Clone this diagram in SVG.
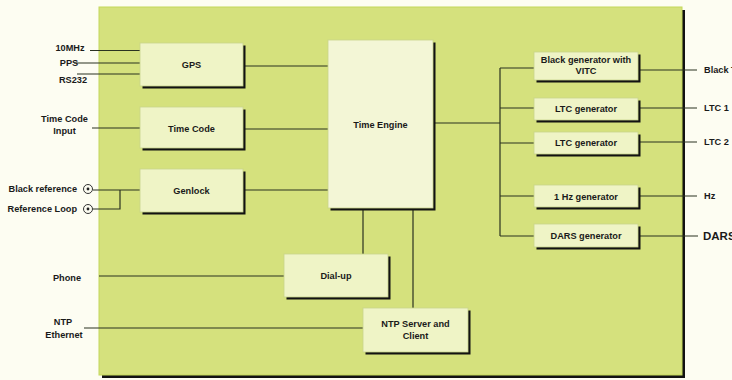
<svg xmlns="http://www.w3.org/2000/svg" width="732" height="380" viewBox="0 0 732 380">
<style>
.t{font-family:"Liberation Sans",Arial,sans-serif;font-weight:bold;font-size:9.2px;fill:#1a1a1a}
.m{text-anchor:middle}
.e{text-anchor:end}
.sh{fill:#121212}
.bx{fill:#eff4c6;stroke:#c8d48a;stroke-width:0.8}
.ln{stroke:#2b3320;stroke-width:1.2;fill:none}
.jk{fill:#fbfbf0;stroke:#333;stroke-width:1}
</style>
<rect width="732" height="380" fill="#fdfdf2"/>
<g id="panel">
<rect x="102" y="10" width="583" height="368" class="sh"/>
<rect x="99" y="7" width="583" height="368" fill="#d5e17d" stroke="#c4d85a" stroke-width="1"/>
</g>
<g id="connectors">
<path class="ln" d="M90 50.5H140M74 63H140M77 74H140"/>
<path class="ln" d="M92 128H140"/>
<path class="ln" d="M93 190H140M120 190V209H93"/>
<path class="ln" d="M99 276H284"/>
<path class="ln" d="M84 328H363"/>
<path class="ln" d="M243 66H328M243 129H328M243 190H328"/>
<path class="ln" d="M363 208V254M413 208V308"/>
<path class="ln" d="M433 123H500M500 68V236M500 68H534M500 108H534M500 143H534M500 196H534M500 236H534"/>
<path class="ln" d="M638 70H697M638 108H697M638 142H697M638 196H697M638 236H698"/>
</g>
<g id="jacks">
<circle cx="88" cy="189" r="4.5" class="jk"/><circle cx="88" cy="189" r="1.4" fill="#222"/>
<circle cx="88" cy="209" r="4.5" class="jk"/><circle cx="88" cy="209" r="1.4" fill="#222"/>
</g>
<g id="gps"><rect x="142.5" y="45.5" width="103" height="43" class="sh"/><rect x="140" y="43" width="103" height="43" class="bx"/><text x="191.5" y="67.5" class="t m">GPS</text></g>
<g id="timecode"><rect x="142.5" y="109.5" width="103" height="41" class="sh"/><rect x="140" y="107" width="103" height="41" class="bx"/><text x="191.5" y="131.5" class="t m">Time Code</text></g>
<g id="genlock"><rect x="142.5" y="171.5" width="103" height="43" class="sh"/><rect x="140" y="169" width="103" height="43" class="bx"/><text x="191.5" y="193.5" class="t m">Genlock</text></g>
<g id="timeengine"><rect x="330.5" y="42.5" width="105" height="168" class="sh"/><rect x="328" y="40" width="105" height="168" fill="#f3f6d6" stroke="#c8d48a" stroke-width="0.8"/><text x="380.5" y="127.5" class="t m">Time Engine</text></g>
<g id="dialup"><rect x="286.5" y="256.5" width="104" height="43" class="sh"/><rect x="284" y="254" width="104" height="43" class="bx"/><text x="336" y="278.5" class="t m">Dial-up</text></g>
<g id="ntp"><rect x="365.5" y="310.5" width="105" height="44" class="sh"/><rect x="363" y="308" width="105" height="44" class="bx"/><text x="415.5" y="326.5" class="t m">NTP Server and</text><text x="415.5" y="338.5" class="t m">Client</text></g>
<g id="blackgen"><rect x="536.5" y="54.5" width="104" height="28" class="sh"/><rect x="534" y="52" width="104" height="28" class="bx"/><text x="586" y="63" class="t m">Black generator with</text><text x="586" y="74" class="t m">VITC</text></g>
<g id="ltc1"><rect x="536.5" y="100.5" width="104" height="22" class="sh"/><rect x="534" y="98" width="104" height="22" class="bx"/><text x="586" y="111.5" class="t m">LTC generator</text></g>
<g id="ltc2"><rect x="536.5" y="134.5" width="104" height="22" class="sh"/><rect x="534" y="132" width="104" height="22" class="bx"/><text x="586" y="146" class="t m">LTC generator</text></g>
<g id="hz"><rect x="536.5" y="187.5" width="104" height="22" class="sh"/><rect x="534" y="185" width="104" height="22" class="bx"/><text x="586" y="199.5" class="t m">1 Hz generator</text></g>
<g id="dars"><rect x="536.5" y="226.5" width="104" height="23" class="sh"/><rect x="534" y="224" width="104" height="23" class="bx"/><text x="586" y="239" class="t m">DARS generator</text></g>
<g id="labels">
<text x="70" y="51" class="t m">10MHz</text>
<text x="69" y="66" class="t m">PPS</text>
<text x="73" y="83" class="t m">RS232</text>
<text x="64.5" y="122" class="t m">Time Code</text>
<text x="64.5" y="134" class="t m">Input</text>
<text x="77" y="192" class="t e">Black reference</text>
<text x="77" y="212" class="t e">Reference Loop</text>
<text x="67" y="281" class="t m">Phone</text>
<text x="63" y="325" class="t m">NTP</text>
<text x="64" y="338" class="t m">Ethernet</text>
<text x="704" y="73" class="t">Black T</text>
<text x="704" y="111" class="t">LTC 1</text>
<text x="704" y="145" class="t">LTC 2</text>
<text x="704" y="199" class="t">Hz</text>
<text x="703" y="240" class="t" style="font-size:11.5px">DARS</text>
</g>
</svg>
